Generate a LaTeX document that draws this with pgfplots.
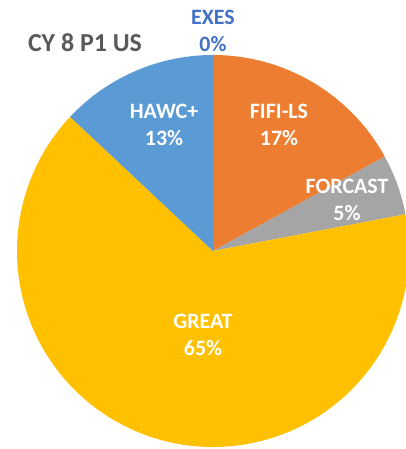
\documentclass[border=0pt]{standalone}
\usepackage{pgfplots}
\usepackage{pgfplotstable}
\pgfplotsset{compat=1.18}
\usepackage{fontspec}
\setmainfont{Carlito}

\definecolor{exes}{HTML}{4472C4}
\definecolor{fifi}{HTML}{ED7D31}
\definecolor{forcast}{HTML}{A5A5A5}
\definecolor{great}{HTML}{FFC000}
\definecolor{hawc}{HTML}{5B9BD5}
\definecolor{titlegray}{HTML}{595959}

% share of time per instrument, clockwise from 12 o'clock
\pgfplotstableread{
name    value col     txt   lx  ly
EXES    0     exes    exes  213 418
FIFI-LS 17    fifi    white 279 324
FORCAST 5     forcast white 347 249
GREAT   65    great   white 203 114
HAWC+   13    hawc    white 164 324
}\piedata

% build the wedges and labels from the table (in the preamble, so no stray spaces)
\def\cum{0}
\gdef\slices{}
\gdef\labels{}
\pgfplotsforeachungrouped \i in {0,...,4}{%
  \pgfplotstablegetelem{\i}{name}\of\piedata \let\n\pgfplotsretval
  \pgfplotstablegetelem{\i}{value}\of\piedata \let\v\pgfplotsretval
  \pgfplotstablegetelem{\i}{col}\of\piedata \let\c\pgfplotsretval
  \pgfplotstablegetelem{\i}{txt}\of\piedata \let\t\pgfplotsretval
  \pgfplotstablegetelem{\i}{lx}\of\piedata \let\lx\pgfplotsretval
  \pgfplotstablegetelem{\i}{ly}\of\piedata \let\ly\pgfplotsretval
  \pgfmathsetmacro\a{90-3.6*\cum}%
  \pgfmathsetmacro\b{90-3.6*(\cum+\v)}%
  \pgfmathsetmacro\cum{\cum+\v}%
  \xdef\slices{\unexpanded\expandafter{\slices}%
    \noexpand\fill[\c] (axis cs:213,198) -- ++(\a:196bp)
      arc[start angle=\a, end angle=\b, radius=196bp] -- cycle;}%
  \xdef\labels{\unexpanded\expandafter{\labels}%
    \noexpand\node[text=\t, align=center,
      font=\noexpand\fontsize{22}{27}\noexpand\selectfont\noexpand\bfseries]
      at (axis cs:\lx,\ly) {\n\noexpand\\\v\noexpand\%};}%
}

\begin{document}
\begin{tikzpicture}
\begin{axis}[
    name=pie,
    hide axis,
    scale only axis,
    width=406bp, height=449bp,
    xmin=0, xmax=406, ymin=0, ymax=449,
]
\slices
\labels
\node[text=titlegray, font=\fontsize{26}{30}\selectfont\bfseries]
  at (axis cs:85,406) {CY 8 P1 US};
\end{axis}
\pgfresetboundingbox
\useasboundingbox (pie.south west) rectangle (pie.north east);
\end{tikzpicture}
\end{document}
